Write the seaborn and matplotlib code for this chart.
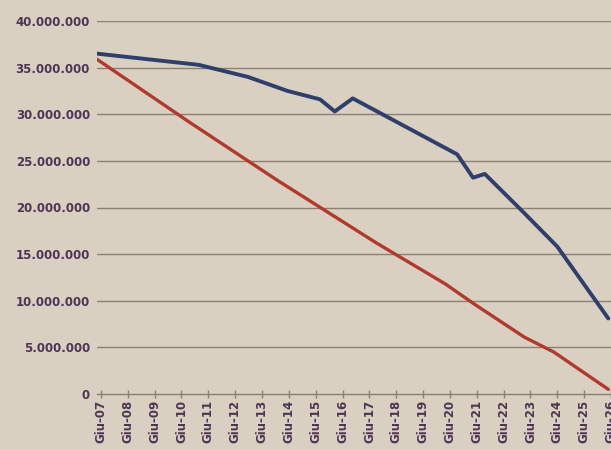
import matplotlib
matplotlib.use("Agg")
import matplotlib.pyplot as plt
import seaborn as sns
import pandas as pd

# ---- data ----
blue_x = [2006.85, 2010.64, 2012.48, 2013.95, 2015.16, 2015.71, 2016.38,
          2020.27, 2020.86, 2021.30, 2022.77, 2024.00, 2025.90]
blue_y = [36.5, 35.3, 34.0, 32.5, 31.6, 30.3, 31.7,
          25.7, 23.2, 23.6, 19.4, 15.8, 8.1]
red_x = [2006.85, 2010.27, 2013.58, 2017.26, 2019.83, 2020.93,
         2022.77, 2023.87, 2025.90]
red_y = [35.9, 29.2, 22.9, 16.2, 11.8, 9.6, 6.1, 4.5, 0.5]
tick_years = list(range(2007, 2027))
tick_labels = [f"Giu-{y % 100:02d}" for y in tick_years]
y_ticks = [0, 5, 10, 15, 20, 25, 30, 35, 40]  # millions

blue = pd.DataFrame({"x": blue_x, "y": [v * 1e6 for v in blue_y]})
red = pd.DataFrame({"x": red_x, "y": [v * 1e6 for v in red_y]})

sns.set_theme(style="white")
plt.rcParams["font.family"] = ["DejaVu Sans"]

bg = "#dad0c1"
txt = "#4d3454"
grid_c = "#8d7f72"

fig = plt.figure(figsize=(6.11, 4.49), dpi=100, facecolor=bg)
ax = fig.add_axes([97 / 611, 55 / 449, 514 / 611, 373 / 449])
ax.set_facecolor(bg)

for v in y_ticks[1:]:
    ax.axhline(v * 1e6, color=grid_c, lw=1.0, zorder=1)

sns.lineplot(data=red, x="x", y="y", ax=ax, color="#b23a2c", lw=2.4,
             sort=False, zorder=3)
sns.lineplot(data=blue, x="x", y="y", ax=ax, color="#2f3f6c", lw=2.8,
             sort=False, zorder=4)

ax.set_xlim(2006.853, 2025.736)
ax.set_ylim(0, 40e6)

ax.set_xticks(tick_years)
ax.set_xticklabels(tick_labels, rotation=90, fontsize=8.5, fontweight="bold",
                   color=txt)
ax.set_yticks([v * 1e6 for v in y_ticks])
ax.set_yticklabels([f"{v * 1000000:,}".replace(",", ".") for v in y_ticks],
                   fontsize=8.5, fontweight="bold", color=txt)
ax.tick_params(axis="x", direction="inout", length=6, width=1, color=grid_c,
               pad=1, bottom=True)
ax.tick_params(axis="y", length=0, pad=5)
ax.set_xlabel("")
ax.set_ylabel("")

for s in ["top", "right", "left"]:
    ax.spines[s].set_visible(False)
ax.spines["bottom"].set_color(grid_c)
ax.spines["bottom"].set_linewidth(1.0)

fig.savefig("out.png", dpi=100, facecolor=bg)
